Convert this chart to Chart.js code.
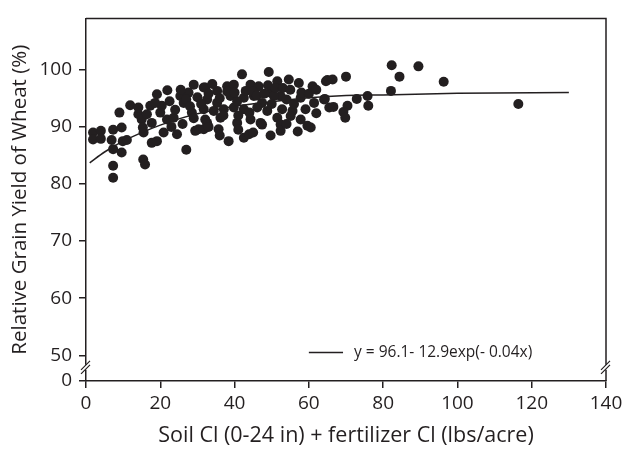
<!DOCTYPE html>
<html>
<head>
<meta charset="utf-8">
<script src="https://cdn.jsdelivr.net/npm/chart.js@4/dist/chart.umd.min.js"></script>
<style>
  html, body { margin: 0; padding: 0; background: #fff; }
  #wrap { width: 631px; height: 449px; }
</style>
</head>
<body>
<div id="wrap"><canvas id="chartCanvas" width="631" height="449"></canvas></div>
<script>
// --- data ---
const soilCl = [
  1.9, 1.9, 4.0, 4.0, 7.3, 9.6, 6.9, 9.9, 11.0, 7.3, 9.6, 7.3, 7.3, 15.4, 15.9,
  9.0, 11.9, 14.1, 15.0, 15.5, 15.3, 17.7, 19.1, 20.9, 24.5, 27.0, 17.3, 17.7, 19.1, 21.9,
  20.0, 20.4, 21.8, 23.6, 25.4, 26.3, 29.0, 27.6, 28.5, 30.3, 29.4, 31.7, 32.6, 14.1, 16.4,
  18.6, 42.0, 49.2, 32.1, 35.3, 38.0, 39.8, 44.3, 46.5, 51.5, 54.6, 57.3, 61.0, 64.6, 49.7,
  52.4, 57.8, 61.4, 64.1, 65.5, 32.6, 35.3, 38.9, 42.5, 45.2, 47.4, 50.6, 31.7, 34.4, 37.1,
  39.8, 42.5, 46.1, 48.8, 52.8, 55.6, 59.1, 32.1, 36.2, 40.7, 44.3, 47.0, 51.5, 55.1, 57.8,
  59.6, 31.7, 35.7, 52.4, 52.4, 49.7, 38.4, 42.5, 43.9, 60.5, 47.4, 40.7, 82.3, 89.5, 84.4,
  96.3, 82.1, 65.0, 66.4, 70.0, 64.3, 66.6, 72.9, 75.8, 76.0, 70.4, 69.3, 69.8, 116.4,
  22.5, 24.0, 25.5, 27.0, 28.0, 30.0, 31.0, 33.0, 34.0, 36.0, 37.0, 38.0, 40.0, 41.0, 43.0,
  44.0, 45.0, 46.0, 48.0, 49.0, 50.0, 51.0, 53.0, 54.0, 55.0, 56.0, 58.0, 60.0, 62.0, 26.0,
  23.0, 29.0, 33.0, 36.0, 41.0, 45.0, 54.0, 57.0, 62.0
];
const yieldPct = [
  89.0, 87.8, 89.3, 87.9, 89.5, 89.9, 87.7, 87.5, 87.7, 86.1, 85.5, 83.2, 81.1, 84.3, 83.4,
  92.5, 93.8, 92.2, 91.3, 89.0, 89.9, 87.2, 87.5, 89.0, 88.7, 86.0, 93.7, 90.7, 95.7, 96.4,
  92.5, 93.7, 91.3, 91.6, 95.4, 94.2, 97.4, 96.0, 92.5, 89.6, 89.3, 96.9, 90.7, 93.4, 92.2,
  94.2, 99.2, 99.6, 96.9, 96.3, 97.1, 97.4, 97.4, 97.1, 98.0, 98.3, 97.7, 97.1, 98.0, 96.0,
  95.4, 95.1, 94.2, 94.8, 93.4, 94.8, 94.2, 95.4, 95.1, 95.4, 94.2, 95.4, 93.1, 92.8, 93.1,
  93.4, 93.1, 93.4, 92.8, 93.1, 92.8, 93.1, 91.3, 91.6, 90.7, 91.3, 90.7, 91.6, 91.9, 91.3,
  90.2, 89.6, 89.6, 90.4, 89.3, 88.5, 87.5, 88.1, 88.7, 89.9, 90.4, 94.5, 100.8, 100.6, 98.8,
  97.9, 96.3, 98.2, 98.3, 98.8, 94.9, 93.5, 94.9, 95.4, 93.7, 93.7, 92.6, 91.6, 94.0,
  94.5, 93.0, 96.5, 94.8, 93.6, 95.2, 94.0, 95.8, 97.5, 95.0, 92.0, 96.2, 96.0, 92.0, 96.3,
  92.5, 96.2, 95.5, 95.8, 97.3, 94.0, 96.8, 96.8, 94.8, 96.5, 94.0, 96.0, 95.8, 96.5, 90.5,
  90.0, 91.5, 90.0, 88.5, 89.5, 89.0, 90.5, 89.2, 92.4
];

// fitted curve
const fitX = [1, 5, 10, 15, 20, 25, 30, 40, 50, 60, 70, 80, 100, 130];
const fitY = [83.7, 85.6, 87.5, 89.0, 90.3, 91.4, 92.3, 93.6, 94.4, 95.1, 95.5, 95.6, 95.9, 96.0];

const yTicks = [50, 60, 70, 80, 90, 100];
const xTicks = [0, 20, 40, 60, 80, 100, 120, 140];
const legendText = "y = 96.1- 12.9exp(- 0.04x)";

const ink = "#231f20";
const fontFam = "'Open Sans', 'Liberation Sans', sans-serif";
const Y_ZERO = 45.49; // value where the "0" label sits, below the break

const points = soilCl.map((x, i) => ({ x, y: yieldPct[i] }));
const curve = fitX.map((x, i) => ({ x, y: fitY[i] }));

// frame, axis breaks and the equation legend
const extras = {
  id: "extras",
  afterDraw(chart) {
    const { ctx, chartArea: a, scales } = chart;
    ctx.save();
    ctx.strokeStyle = ink;
    ctx.lineWidth = 1.5;
    ctx.beginPath();
    ctx.moveTo(a.left, a.top);
    ctx.lineTo(a.right, a.top);
    ctx.lineTo(a.right, a.bottom);
    ctx.stroke();

    const by = scales.y.getPixelForValue(47.8);
    [a.left, a.right].forEach(x => {
      ctx.fillStyle = "#fff";
      ctx.fillRect(x - 3, by - 3, 6, 5);
      ctx.strokeStyle = ink;
      ctx.lineWidth = 1.2;
      ctx.beginPath();
      ctx.moveTo(x - 5, by + 2); ctx.lineTo(x + 4, by - 7);
      ctx.moveTo(x - 5, by + 6); ctx.lineTo(x + 4, by - 3);
      ctx.stroke();
    });

    const lx0 = scales.x.getPixelForValue(60);
    const lx1 = scales.x.getPixelForValue(69.2);
    const ly = scales.y.getPixelForValue(50.5);
    ctx.strokeStyle = ink;
    ctx.lineWidth = 1.5;
    ctx.beginPath();
    ctx.moveTo(lx0, ly); ctx.lineTo(lx1, ly);
    ctx.stroke();
    ctx.fillStyle = ink;
    ctx.font = "15.5px " + fontFam;
    ctx.textBaseline = "middle";
    ctx.fillText(legendText, lx1 + 11, ly);
    ctx.restore();
  }
};

new Chart(document.getElementById("chartCanvas"), {
  type: "scatter",
  data: {
    datasets: [
      {
        label: "data",
        data: points,
        backgroundColor: ink,
        borderColor: ink,
        pointRadius: 5,
        pointBorderWidth: 0
      },
      {
        label: legendText,
        type: "line",
        data: curve,
        borderColor: ink,
        borderWidth: 1.5,
        pointRadius: 0,
        cubicInterpolationMode: "monotone",
        fill: false
      }
    ]
  },
  options: {
    responsive: false,
    animation: false,
    layout: { padding: { top: 12, right: 25, left: 0, bottom: 0 } },
    plugins: { legend: { display: false }, tooltip: { enabled: false } },
    scales: {
      x: {
        type: "linear",
        min: 0, max: 140,
        afterFit: s => { s.height = 68; },
        afterBuildTicks: s => { s.ticks = xTicks.map(v => ({ value: v })); },
        grid: { drawOnChartArea: false, drawTicks: true, tickLength: 7, color: ink, lineWidth: 1.5 },
        border: { color: ink, width: 1.5 },
        ticks: { color: ink, font: { family: fontFam, size: 19 }, padding: 4 },
        title: {
          display: true,
          text: "Soil Cl (0-24 in) + fertilizer Cl (lbs/acre)",
          color: ink, font: { family: fontFam, size: 21.5 },
          padding: { top: 0, bottom: 0 }
        }
      },
      y: {
        type: "linear",
        min: Y_ZERO, max: 109,
        afterFit: s => { s.width = 86; },
        afterBuildTicks: s => { s.ticks = [Y_ZERO, ...yTicks].map(v => ({ value: v })); },
        grid: { drawOnChartArea: false, drawTicks: true, tickLength: 7, color: ink, lineWidth: 1.5 },
        border: { color: ink, width: 1.5 },
        ticks: {
          color: ink, font: { family: fontFam, size: 19 }, padding: 7,
          callback: v => (v < 48 ? "0" : String(v))
        },
        title: {
          display: true,
          text: "Relative Grain Yield of Wheat (%)",
          color: ink, font: { family: fontFam, size: 20.5 },
          padding: { top: 8, bottom: 0 }
        }
      }
    }
  },
  plugins: [extras]
});
</script>
</body>
</html>
